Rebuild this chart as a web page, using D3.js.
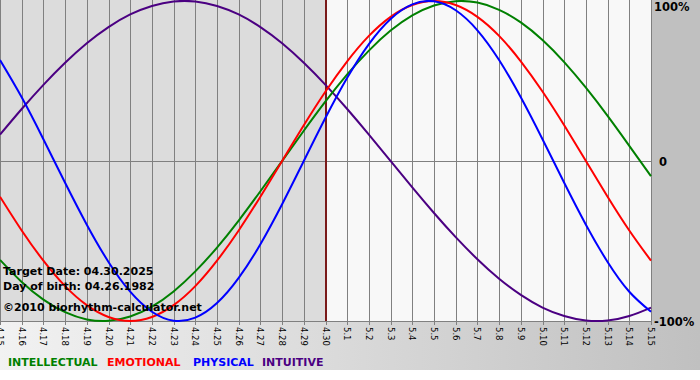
<!DOCTYPE html>
<html><head><meta charset="utf-8">
<script src="https://cdn.jsdelivr.net/npm/d3@7"></script>
<style>html,body{margin:0;padding:0;background:#fff;}svg{display:block;}</style>
</head><body>
<svg id="chart" width="700" height="380"></svg>
<script>
const dayLabels = ["4.15","4.16","4.17","4.18","4.19","4.20","4.21","4.22","4.23","4.24","4.25","4.26","4.27","4.28","4.29","4.30",
  "5.1","5.2","5.3","5.4","5.5","5.6","5.7","5.8","5.9","5.10","5.11","5.12","5.13","5.14","5.15"];
const physical = [0.631,0.398,0.136,-0.136,-0.398,-0.631,-0.817,-0.942,-0.998,-0.979,-0.888,-0.731,-0.520,-0.270,0,0.270,0.520,0.731,0.888,0.979,0.998,0.942,0.817,0.631,0.398,0.136,-0.136,-0.398,-0.631,-0.817,-0.942];
const emotional = [-0.223,-0.434,-0.623,-0.782,-0.901,-0.975,-1,-0.975,-0.901,-0.782,-0.623,-0.434,-0.223,0,0.223,0.434,0.623,0.782,0.901,0.975,1,0.975,0.901,0.782,0.623,0.434,0.223,0,-0.223,-0.434,-0.623];
const intellectual = [-0.618,-0.756,-0.866,-0.945,-0.990,-0.999,-0.972,-0.910,-0.815,-0.690,-0.541,-0.372,-0.189,0,0.189,0.372,0.541,0.690,0.815,0.910,0.972,0.999,0.990,0.945,0.866,0.756,0.618,0.458,0.282,0.095,-0.095];
const intuitive = [0.165,0.325,0.476,0.614,0.736,0.837,0.916,0.969,0.997,0.997,0.969,0.916,0.837,0.736,0.614,0.476,0.325,0.165,0,-0.165,-0.325,-0.476,-0.614,-0.736,-0.837,-0.916,-0.969,-0.997,-0.997,-0.969,-0.916];
const yTickLabels = ["100%","0","-100%"];
const yTickValues = [1,0,-1];
const targetLabel = "4.30";
const infoLines = ["Target Date: 04.30.2025","Day of birth: 04.26.1982","©2010 biorhythm-calculator.net"];
const seriesNames = ["INTELLECTUAL","EMOTIONAL","PHYSICAL","INTUITIVE"];

const svg = d3.select("#chart");
const W = 700, plotR = 651, plotB = 321;
const x = d3.scalePoint().domain(dayLabels).range([0, plotR]);
const y = d3.scaleLinear().domain([-1, 1]).range([plotB, 1]);

const defs = svg.append("defs");
const g1 = defs.append("linearGradient").attr("id","bottomGrad").attr("x1","0").attr("x2","1").attr("y1","0").attr("y2","0");
g1.append("stop").attr("offset","0").attr("stop-color","#f2f2f2");
g1.append("stop").attr("offset","1").attr("stop-color","#c0c0c0");

// backgrounds
svg.append("rect").attr("x",0).attr("y",0).attr("width",W).attr("height",380).attr("fill","#fff");
svg.append("rect").attr("x",0).attr("y",plotB).attr("width",W).attr("height",370-plotB).attr("fill","url(#bottomGrad)");
svg.append("rect").attr("x",plotR).attr("y",0).attr("width",W-plotR).attr("height",plotB).attr("fill","#c0c0c0");
const xt = x(targetLabel);
svg.append("rect").attr("x",0).attr("y",0).attr("width",xt).attr("height",plotB).attr("fill","#dcdcdc");
svg.append("rect").attr("x",xt).attr("y",0).attr("width",plotR-xt).attr("height",plotB).attr("fill","#f8f8f8");

// vertical grid lines + ticks
svg.append("g").selectAll("line").data(dayLabels).join("line")
  .attr("x1",d=>Math.round(x(d))+0.5).attr("x2",d=>Math.round(x(d))+0.5)
  .attr("y1",0).attr("y2",plotB+4).attr("stroke","#808080").attr("stroke-width",1);
// horizontal lines
svg.append("g").selectAll("line").data(yTickValues.filter(d=>d!==1)).join("line")
  .attr("x1",0).attr("x2",plotR).attr("y1",d=>Math.round(y(d))+0.5).attr("y2",d=>Math.round(y(d))+0.5)
  .attr("stroke","#808080").attr("stroke-width",1);

// x labels rotated
svg.append("g").selectAll("text").data(dayLabels).join("text")
  .attr("transform",d=>`translate(${x(d)-3},${plotB+6}) rotate(90)`)
  .attr("font-family","DejaVu Sans, Verdana, sans-serif").attr("font-size",8.5).attr("fill","#000")
  .text(d=>d);

// y labels right
svg.append("g").selectAll("text").data(yTickValues).join("text")
  .attr("x",(d,i)=>i===1?659:654).attr("y",(d)=>d===1?11:(d===0?166:326))
  .attr("font-family","DejaVu Sans, Verdana, sans-serif").attr("font-weight","bold").attr("font-size",11.5).attr("fill","#000")
  .text((d,i)=>yTickLabels[i]);

// target line
svg.append("line").attr("x1",xt+0.5).attr("x2",xt+0.5).attr("y1",0).attr("y2",plotB)
  .attr("stroke","#7a1a1a").attr("stroke-width",2);

// curves
const series = [
  {name:"INTUITIVE", vals:intuitive, color:"#4b0082"},
  {name:"INTELLECTUAL", vals:intellectual, color:"#008000"},
  {name:"EMOTIONAL", vals:emotional, color:"#ff0000"},
  {name:"PHYSICAL", vals:physical, color:"#0000ff"}
];
const line = d3.line().x((d,i)=>x(dayLabels[i])).y(d=>y(d)).curve(d3.curveNatural);
svg.append("g").selectAll("path").data(series).join("path")
  .attr("d",s=>line(s.vals)).attr("fill","none").attr("stroke",s=>s.color).attr("stroke-width",2);

// info text
svg.append("g").selectAll("text").data(infoLines).join("text")
  .attr("x",3).attr("y",(d,i)=>[275,290,311][i])
  .attr("font-family","DejaVu Sans, Verdana, sans-serif").attr("font-weight","bold")
  .attr("font-size",11).attr("fill","#000").text(d=>d);

// legend
const legColors = {"INTELLECTUAL":"#008000","EMOTIONAL":"#ff0000","PHYSICAL":"#0000ff","INTUITIVE":"#4b0082"};
const legX = [8,107,193,262];
svg.append("g").selectAll("text").data(seriesNames).join("text")
  .attr("x",(d,i)=>legX[i]).attr("y",366)
  .attr("font-family","DejaVu Sans, Verdana, sans-serif").attr("font-weight","bold").attr("font-size",11)
  .attr("fill",d=>legColors[d]).text(d=>d);
</script>
</body></html>
